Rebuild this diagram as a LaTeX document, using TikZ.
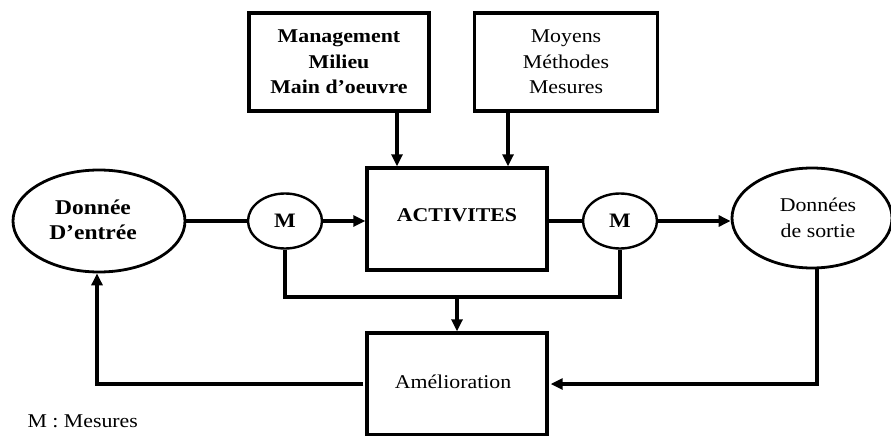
\documentclass[tikz,border=0pt]{standalone}
\usepackage{fontspec}
\setmainfont{Liberation Serif}[FakeStretch=1.12]
\usetikzlibrary{arrows.meta,shapes.geometric}
\begin{document}
\begin{tikzpicture}[x=1pt,y=-1pt,
  every node/.style={font=\fontsize{19.5}{25.5}\selectfont, align=center},
  box/.style={draw, line width=3.4pt, rectangle, inner sep=0pt},
  oval/.style={draw, line width=2.8pt, ellipse, inner sep=0pt},
  meas/.style={draw, line width=2.4pt, ellipse, inner sep=0pt, minimum width=74pt, minimum height=55pt, font=\fontsize{20.5}{25.5}\selectfont\bfseries},
  wire/.style={line width=3.2pt},
  arr/.style={wire, -{Triangle[length=12pt,width=11pt]}}]
\useasboundingbox (0,0) rectangle (891,436);
\node[box, minimum width=180pt, minimum height=98pt, font=\fontsize{19.5}{25.5}\selectfont\bfseries] (mgmt) at (339,62) {Management\\Milieu\\Main d'oeuvre};
\node[box, minimum width=183pt, minimum height=98pt] (moy) at (566,62) {Moyens\\Méthodes\\Mesures};
\node[box, minimum width=180pt, minimum height=102pt] (act) at (457,219) {};
\node[font=\fontsize{19.5}{25.5}\selectfont\bfseries] (actl) at (457,215) {ACTIVITES};
\node[meas] (m1) at (285,221) {M};
\node[meas] (m2) at (620,221) {M};
\node[oval, minimum width=172pt, minimum height=102pt] (in) at (99,221) {};
\node[font=\fontsize{21}{25}\selectfont\bfseries] (inl) at (93,220) {Donnée\\D'entrée};
\node[oval, minimum width=160pt, minimum height=100pt] (out) at (812,218) {};
\node (outl) at (818,218) {Données\\de sortie};
\node[box, minimum width=180pt, minimum height=102pt] (amel) at (457,384) {};
\node (ameltxt) at (453,382) {Amélioration};
\node[anchor=west] (leg) at (24,421) {M : Mesures};
\coordinate (bus) at (457,297);
\draw[arr] ([xshift=58]mgmt.south) -- ([xshift=58]mgmt.south |- act.north);
\draw[arr] ([xshift=-58]moy.south) -- ([xshift=-58]moy.south |- act.north);
\draw[wire] (in.east |- m1.west) -- (m1.west);
\draw[arr] (m1.east) -- (m1.east -| act.west);
\draw[wire] (act.east |- m2.west) -- (m2.west);
\draw[arr] (m2.east) -- (m2.east -| out.west);
\draw[wire] (m1.south) |- (bus) -| (m2.south);
\draw[arr] (bus) -- (amel.north);
\draw[arr] ([xshift=-2]amel.west) -| ([xshift=-2]in.south);
\draw[arr] ([xshift=5]out.south) |- ([xshift=2]amel.east);
\end{tikzpicture}
\end{document}
